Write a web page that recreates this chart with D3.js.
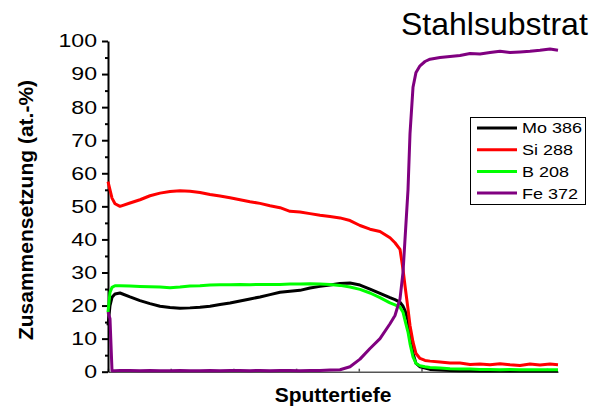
<!DOCTYPE html>
<html>
<head>
<meta charset="utf-8">
<script src="https://cdn.jsdelivr.net/npm/d3@7"></script>
<style>
  body { margin: 0; background: #fff; }
  text { font-family: "Liberation Sans", Arial, sans-serif; }
</style>
</head>
<body>
<script>
// sputter depth (arbitrary units, no labels on the axis)
const depth = [0,2,4,7,12,22,32,42,52,62,72,82,92,102,112,122,132,142,152,162,172,182,192,202,212,222,232,242,252,262,272,282,287,292,295,297,300,302,305,308,312,317,322,332,342,352,362,372,382,392,402,412,422,432,442,450]

const mo386 = [14,20,22.5,23.5,23.8,22.6,21.5,20.6,19.8,19.4,19.2,19.3,19.5,19.8,20.3,20.8,21.4,22,22.6,23.3,24,24.3,24.6,25.3,25.8,26.2,26.7,26.8,26.2,25,23.7,22.4,21.8,21,19.8,18.5,15.5,11,5.5,2.5,1.5,1.1,0.7,0.5,0.4,0.3,0.3,0.2,0.2,0.2,0.2,0.2,0.2,0.2,0.2,0.2]
const si288 = [57.5,55,52.5,50.8,50,51,52,53.2,54,54.5,54.7,54.6,54.2,53.6,53.1,52.6,52,51.4,50.9,50.2,49.6,48.5,48.3,47.8,47.3,46.9,46.5,45.7,44.2,43.1,42.4,40.5,39,37,31,26,19,14,9,5.5,4,3.4,3.2,2.9,2.6,2.6,2.2,2.3,2.1,2.4,2.1,1.9,2.3,2,2.3,2.1]
const b208 = [18,24,25.5,26,26,25.9,25.8,25.7,25.6,25.4,25.6,25.9,26,26.2,26.3,26.3,26.4,26.3,26.4,26.4,26.4,26.5,26.5,26.6,26.5,26.4,26.1,25.6,24.9,23.8,22.4,20.8,20.2,19.5,18,15.5,12,8.5,4.5,2.5,1.8,1.5,1.3,1.1,0.9,0.8,0.8,0.7,0.7,0.6,0.7,0.6,0.6,0.6,0.6,0.6]
const fe372 = [18,16,0.3,0.3,0.4,0.4,0.3,0.4,0.3,0.3,0.4,0.3,0.3,0.4,0.3,0.4,0.4,0.3,0.4,0.3,0.4,0.4,0.3,0.4,0.4,0.5,0.6,1.5,3.8,7,10,14.5,17,22,30,40,55,72,86,90.5,92.5,93.8,94.5,95,95.3,95.6,96.2,96.1,96.5,96.9,96.5,96.7,96.9,97.2,97.6,97.2]

const seriesNames = ['Mo 386', 'Si 288', 'B 208', 'Fe 372']
const seriesColors = ['#000000', '#ff0000', '#00ff00', '#800080']
const seriesValues = [mo386, si288, b208, fe372]

const yMajor = [0,10,20,30,40,50,60,70,80,90,100]
const yMinor = [5,15,25,35,45,55,65,75,85,95]
const xTicks = [0,62.7,125.4,188.1,250.8,313.5,376.2,438.9]

const width = 594
const height = 406
const svg = d3.select('body').append('svg').attr('width', width).attr('height', height)

const x = d3.scaleLinear().domain([0, 450]).range([108, 558])
const y = d3.scaleLinear().domain([0, 100]).range([371.7, 41])

// x axis (no labels)
const xAxis = svg.append('g')
    .attr('transform', `translate(0,${y(0)})`)
    .call(d3.axisBottom(x).tickValues(xTicks).tickSizeInner(-3).tickSizeOuter(0).tickFormat(''))
xAxis.select('.domain').attr('stroke', '#555').attr('stroke-width', 1.5)
xAxis.selectAll('.tick line').attr('stroke', '#555').attr('stroke-width', 1.5)

// y axis minor ticks
const yMinorAxis = svg.append('g')
    .attr('transform', `translate(${x(0)},0)`)
    .call(d3.axisLeft(y).tickValues(yMinor).tickSize(3).tickFormat(''))
yMinorAxis.select('.domain').remove()
yMinorAxis.selectAll('.tick line').attr('stroke', '#000').attr('stroke-width', 2)

// y axis major
const yAxis = svg.append('g')
    .attr('transform', `translate(${x(0)},0)`)
    .call(d3.axisLeft(y).tickValues(yMajor).tickSize(6).tickSizeOuter(0))
yAxis.select('.domain').attr('stroke', '#000').attr('stroke-width', 2)
yAxis.selectAll('.tick line').attr('stroke', '#000').attr('stroke-width', 2)
yAxis.selectAll('.tick text')
    .attr('font-family', '"Liberation Sans", Arial, sans-serif')
    .attr('font-size', 18.5)
    .attr('fill', '#000')
    .attr('x', -8.8)
    .attr('transform', 'scale(1.25,1)')

// lines
const line = d3.line()
    .x((d, i) => x(depth[i]))
    .y(d => y(d))

svg.selectAll('path.series')
    .data(seriesValues)
    .enter()
    .append('path')
    .attr('class', 'series')
    .attr('d', d => line(d))
    .attr('fill', 'none')
    .attr('stroke', (d, i) => seriesColors[i])
    .attr('stroke-width', 3)
    .attr('stroke-linejoin', 'round')

// titles
svg.append('text')
    .text('Stahlsubstrat')
    .attr('x', 401)
    .attr('y', 35)
    .attr('font-size', 32)
    .attr('fill', '#000')

svg.append('text')
    .text('Zusammensetzung (at.-%)')
    .attr('transform', 'translate(33,210) rotate(-90)')
    .attr('text-anchor', 'middle')
    .attr('font-size', 21)
    .attr('font-weight', 'bold')
    .attr('fill', '#000')

svg.append('text')
    .text('Sputtertiefe')
    .attr('x', 333)
    .attr('y', 402)
    .attr('text-anchor', 'middle')
    .attr('font-size', 21)
    .attr('font-weight', 'bold')
    .attr('fill', '#000')

// legend
const legend = svg.append('g')
legend.append('rect')
    .attr('x', 470.5)
    .attr('y', 117.5)
    .attr('width', 115)
    .attr('height', 87)
    .attr('fill', '#fff')
    .attr('stroke', '#000')
    .attr('stroke-width', 1)

const rowY = (d, i) => 128 + i * 21.7
legend.selectAll('line')
    .data(seriesNames)
    .enter()
    .append('line')
    .attr('x1', 477)
    .attr('x2', 517)
    .attr('y1', rowY)
    .attr('y2', rowY)
    .attr('stroke', (d, i) => seriesColors[i])
    .attr('stroke-width', 3)
legend.selectAll('text')
    .data(seriesNames)
    .enter()
    .append('text')
    .text(d => d)
    .attr('transform', (d, i) => `translate(522,${rowY(d, i)}) scale(1.2,1)`)
    .attr('dy', '0.36em')
    .attr('font-size', 15)
    .attr('fill', '#000')
</script>
</body>
</html>
